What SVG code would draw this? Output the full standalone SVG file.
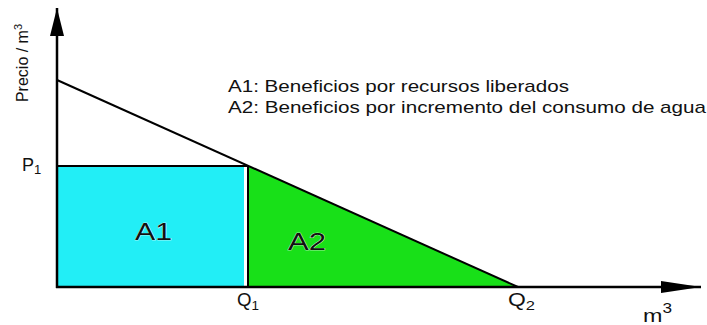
<svg xmlns="http://www.w3.org/2000/svg" width="707" height="325" viewBox="0 0 707 325">
<style>
text{font-family:"Liberation Sans",Arial,sans-serif;fill:#111}
.ax{stroke:#000;stroke-width:2.5;fill:none}
.ln{stroke:#000;stroke-width:2;fill:none}
.lbl{font-size:18px}
.leg{font-size:17px}
.area{font-size:23px;stroke:#fff;stroke-width:0.6;paint-order:stroke}
</style>
<defs>
<marker id="ah" viewBox="0 0 40 12" refX="40" refY="6" markerWidth="40" markerHeight="12" markerUnits="userSpaceOnUse" orient="auto">
<path d="M0,0 L40,6 L0,12 Z" fill="#000"/>
</marker>
<marker id="ahv" viewBox="0 0 28 14" refX="28" refY="7" markerWidth="28" markerHeight="14" markerUnits="userSpaceOnUse" orient="auto">
<path d="M0,0 L28,7 L0,14 Z" fill="#000"/>
</marker>
</defs>
<g id="areas">
<g id="A1"><rect x="57" y="166" width="187" height="121" fill="#22eef6"/><text class="area" x="135" y="240" textLength="37" lengthAdjust="spacingAndGlyphs">A1</text></g>
<g id="A2"><polygon points="248,166 248,287 518,287" fill="#18e018"/><text class="area" x="288" y="250" textLength="38" lengthAdjust="spacingAndGlyphs">A2</text></g>
</g>
<g id="connectors">
<line class="ax" x1="57" y1="288" x2="57" y2="8" marker-end="url(#ahv)"/>
<line class="ax" x1="56" y1="287" x2="701" y2="287" marker-end="url(#ah)"/>
<line class="ln" x1="57" y1="80" x2="518" y2="287"/>
<line class="ln" x1="57" y1="166" x2="248" y2="166"/>
<line class="ln" x1="248" y1="166" x2="248" y2="287"/>
</g>
<g id="labels">
<text class="lbl" x="0" y="0" transform="translate(28,63) rotate(-90)" text-anchor="middle" style="font-size:16px">Precio / m<tspan dy="-6" font-size="11">3</tspan></text>
<text class="lbl" x="22" y="171">P<tspan dy="3" font-size="13">1</tspan></text>
<text class="lbl" x="237" y="306" textLength="22" lengthAdjust="spacingAndGlyphs">Q<tspan dy="4" font-size="13">1</tspan></text>
<text class="lbl" x="508" y="306" textLength="27" lengthAdjust="spacingAndGlyphs">Q<tspan dy="4" font-size="13">2</tspan></text>
<text class="lbl" x="643" y="322" style="font-size:19px" textLength="29" lengthAdjust="spacingAndGlyphs">m<tspan dy="-9" font-size="14">3</tspan></text>
</g>
<g id="legend">
<text class="leg" x="228" y="92" textLength="341" lengthAdjust="spacingAndGlyphs">A1: Beneficios por recursos liberados</text>
<text class="leg" x="228" y="113" textLength="478" lengthAdjust="spacingAndGlyphs">A2: Beneficios por incremento del consumo de agua</text>
</g>
</svg>
